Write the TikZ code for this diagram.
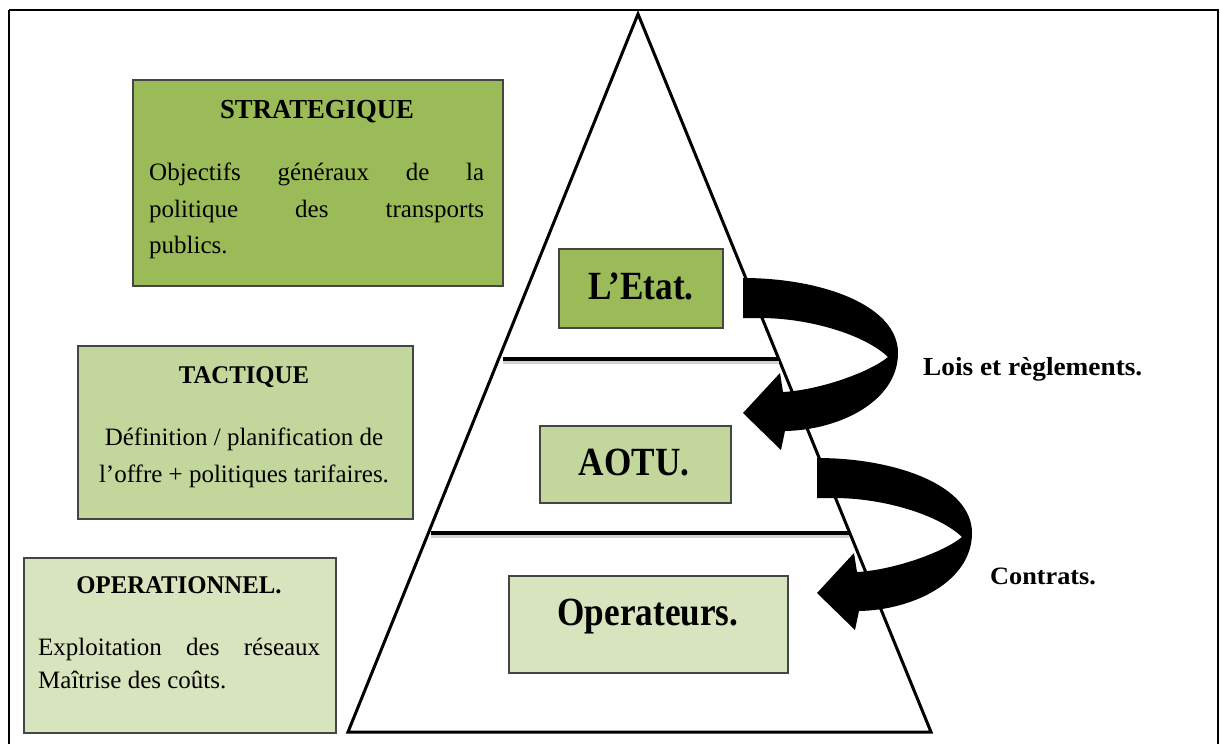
\documentclass[tikz,border=0pt]{standalone}
\usepackage{fontspec}
\setmainfont{Liberation Serif}
\newfontfamily\boxfont[FakeStretch=1.0]{Liberation Serif}
\newfontfamily\titlefont[FakeStretch=0.97]{Liberation Serif}
\newfontfamily\sidefont[FakeStretch=1.05]{Liberation Serif}
\newfontfamily\bigfont[FakeStretch=0.88]{Liberation Serif}
\definecolor{stratfill}{HTML}{9BBB59}
\definecolor{tactfill}{HTML}{C3D69B}
\definecolor{opfill}{HTML}{D7E4BD}
\definecolor{boxgray}{HTML}{454545}
\tikzset{
  lvlbox/.style={draw=boxgray, line width=1.5pt, inner sep=0pt, anchor=north west},
  smalltxt/.style={font=\boxfont\fontsize{25}{29}\selectfont, inner sep=0pt, anchor=base},
  smallbold/.style={smalltxt, font=\titlefont\fontsize{25.5}{29}\selectfont\bfseries},
  bigtxt/.style={font=\bigfont\fontsize{40}{46}\selectfont\bfseries, inner sep=0pt, anchor=base},
  sidetxt/.style={font=\sidefont\fontsize{26}{30}\selectfont\bfseries, inner sep=0pt, anchor=base west},
  levelline/.style={line width=4pt},
  lineshadow/.style={line width=4pt, black!18},
  curvarrow/.pic={
    \fill[black] (0,0) .. controls (78,0) and (155,27) .. (155,75)
      .. controls (155,123) and (97,152) .. (42,153)
      -- (38,172) -- (0,135) -- (37,95) -- (40,114)
      .. controls (77,112) and (127,94) .. (145,79)
      .. controls (122,57) and (67,40) .. (17,40) -- (0,40) -- cycle;
  }
}
\begin{document}
\begin{tikzpicture}[x=1pt,y=-1pt]
\useasboundingbox (0,0) rectangle (1221,744);
\fill[white] (0,0) rectangle (1221,744);
% outer frame
\draw[line width=1.5pt] (9,10) -- (1218,10) -- (1218,750);
\draw[line width=1.5pt] (9,10) -- (9,750);
% pyramid
\coordinate (apex) at (638,14);
\coordinate (bl) at (348,732);
\coordinate (br) at (931,732);
\draw[line width=3pt] (apex) -- (br) -- (bl) -- cycle;
\coordinate (l1a) at (503,359);
\coordinate (l1b) at (779,359);
\coordinate (l2a) at (431,533);
\coordinate (l2b) at (849,533);
\draw[lineshadow] ([yshift=-3pt]l1a) -- ([yshift=-3pt]l1b);
\draw[lineshadow] ([yshift=-3pt]l2a) -- ([yshift=-3pt]l2b);
\draw[levelline] (l1a) -- (l1b);
\draw[levelline] (l2a) -- (l2b);
% left boxes
\node[lvlbox, fill=stratfill, minimum width=370pt, minimum height=206pt] (strat) at (132,79) {};
\node[smallbold, font=\titlefont\fontsize{27.5}{31}\selectfont\bfseries] (strattitle) at (317,118) {STRATEGIQUE};
\node[smalltxt, anchor=base west] (strat1) at (149,180) {\makebox[335pt][s]{Objectifs généraux de la}};
\node[smalltxt, anchor=base west] (strat2) at (149,217) {\makebox[335pt][s]{politique des transports}};
\node[smalltxt, anchor=base west] (strat3) at (149,253) {publics.};

\node[lvlbox, fill=tactfill, minimum width=335pt, minimum height=173pt] (tact) at (77,345) {};
\node[smallbold] (tacttitle) at (244,383) {TACTIQUE};
\node[smalltxt] (tact1) at (244,445) {Définition / planification de};
\node[smalltxt] (tact2) at (244,482) {l’offre + politiques tarifaires.};

\node[lvlbox, fill=opfill, minimum width=312pt, minimum height=175pt] (oper) at (23,557) {};
\node[smallbold] (opertitle) at (179,593) {OPERATIONNEL.};
\node[smalltxt, anchor=base west] (oper1) at (38,655) {\makebox[282pt][s]{Exploitation des réseaux}};
\node[smalltxt, anchor=base west] (oper2) at (38,688) {Maîtrise des coûts.};

% pyramid boxes
\node[lvlbox, fill=stratfill, minimum width=164pt, minimum height=79pt] (etat) at (558,248) {};
\node[bigtxt] (etattxt) at (641,299) {L’Etat.};
\node[lvlbox, fill=tactfill, minimum width=191pt, minimum height=77pt] (aotu) at (539,425) {};
\node[bigtxt] (aotutxt) at (634,475) {AOTU.};
\node[lvlbox, fill=opfill, minimum width=279pt, minimum height=97pt] (opbox) at (508,575) {};
\node[bigtxt] (optxt) at (648,625) {Operateurs.};

% curved arrows
\pic (arrA) at (743,278) {curvarrow};
\pic (arrB) at (817,458) {curvarrow};

% side labels
\node[sidetxt] (lois) at (923,375) {Lois et règlements.};
\node[sidetxt, font=\sidefont\fontsize{25}{29}\selectfont\bfseries] (contrats) at (990,584) {Contrats.};
\end{tikzpicture}
\end{document}
